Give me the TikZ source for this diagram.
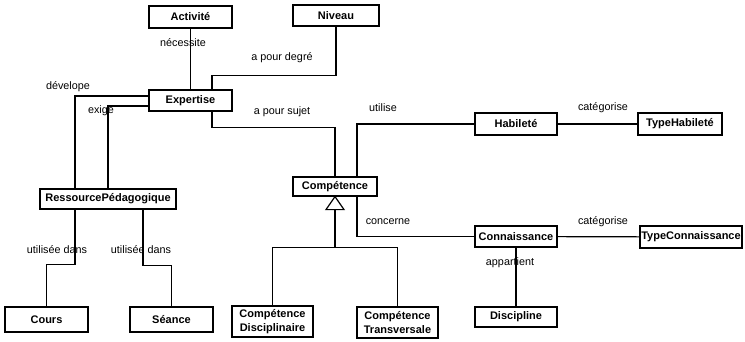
\documentclass[tikz,border=0pt]{standalone}
\usepackage{fontspec}
\setmainfont{Liberation Sans}
\begin{document}
\begin{tikzpicture}[x=1pt,y=-1pt,line width=1.2pt,
  cls/.style={draw,rectangle,inner sep=0pt,font=\fontsize{11}{14.5}\selectfont\bfseries,align=center},
  lbl/.style={inner sep=0pt,font=\fontsize{10.8}{12}\selectfont}]
\useasboundingbox (0,0) rectangle (745,341);
\fill[white] (0,0) rectangle (745,341);
% classes
\node[cls,minimum width=83pt,minimum height=22pt] (act) at (190.5,17) {Activité};
\node[cls,minimum width=86pt,minimum height=21pt] (niv) at (336,15.5) {Niveau};
\node[cls,minimum width=83pt,minimum height=21pt] (exp) at (190.5,100.5) {Expertise};
\node[cls,minimum width=136pt,minimum height=20pt] (res) at (108,199) {RessourcePédagogique};
\node[cls,minimum width=83pt,minimum height=25pt] (cours) at (46.5,319.5) {Cours};
\node[cls,minimum width=83pt,minimum height=25pt] (sea) at (171.5,319.5) {Séance};
\node[cls,minimum width=84pt,minimum height=19pt] (comp) at (335,186.5) {Compétence};
\node[cls,minimum width=81pt,minimum height=31pt] (cd) at (272.5,321.5) {Compétence\\Disciplinaire};
\node[cls,minimum width=81pt,minimum height=31pt] (ct) at (397.5,322.5) {Compétence\\Transversale};
\node[cls,minimum width=82pt,minimum height=22pt] (hab) at (516,124) {Habileté};
\node[cls,minimum width=84pt,minimum height=22pt] (thab) at (680,124) {TypeHabileté};
\node[cls,minimum width=82pt,minimum height=21pt] (conn) at (516,236.5) {Connaissance};
\node[cls,minimum width=102pt,minimum height=22pt] (tconn) at (691,237) {TypeConnaissance};
\node[cls,minimum width=82pt,minimum height=20pt] (disc) at (516,317) {Discipline};
% connectors
\draw (act) -- (exp);
\draw (niv.south) -- ++(0,48.5) -| ([xshift=21.5pt]exp.north);
\draw ([yshift=4.5pt]exp.west) -| ([xshift=-33pt]res.north);
\draw ([yshift=-5.5pt]exp.west) -| (res.north);
\draw ([xshift=21.5pt]exp.south) -- ++(0,16) -| (comp.north);
\draw ([xshift=22pt]comp.north) |- (hab.west);
\draw (hab) -- (thab);
\draw ([xshift=22pt]comp.south) |- (conn.west);
\draw (conn) -- (tconn);
\draw (conn.south) -- (disc.north);
\draw ([xshift=-33pt]res.south) -- ++(0,55) -| (cours.north);
\draw ([xshift=35pt]res.south) -- ++(0,56) -| (sea.north);
% generalization
\draw[line join=miter] (comp.south) -- ++(-9,13) -- ++(18,0) -- cycle;
\draw ([yshift=-13pt]comp.south) -- ++(0,38) coordinate (g);
\draw (cd.north) |- (g) -| (ct.north);
% labels
\node[lbl] at (183,43) {nécessite};
\node[lbl] at (282,58) {a pour degré};
\node[lbl] at (68,87) {dévelope};
\node[lbl] at (101,111) {exige};
\node[lbl] at (282,112) {a pour sujet};
\node[lbl] at (383,108) {utilise};
\node[lbl] at (603,108) {catégorise};
\node[lbl] at (388,222) {concerne};
\node[lbl] at (603,222) {catégorise};
\node[lbl] at (510,263) {appartient};
\node[lbl] at (57,250) {utilisée dans};
\node[lbl] at (141,250) {utilisée dans};
\end{tikzpicture}
\end{document}
